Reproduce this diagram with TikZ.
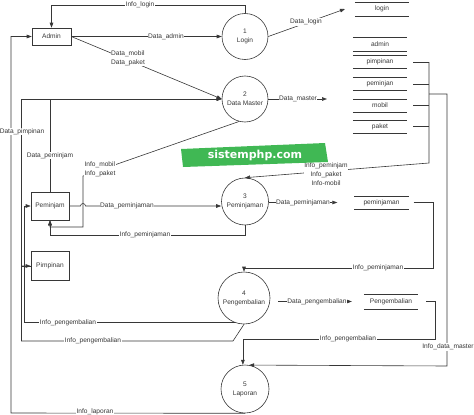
\documentclass[tikz,border=0pt]{standalone}
\usepackage{fontspec}
\setmainfont{Liberation Sans}
\newfontfamily\wmfont{DejaVu Sans}
\usetikzlibrary{arrows.meta,calc}
\definecolor{ln}{RGB}{55,55,55}
\definecolor{wmgreen}{RGB}{64,184,84}
\begin{document}
\begin{tikzpicture}[x=1pt,y=-1pt,
 every node/.style={font=\fontsize{6.6}{9}\selectfont, text=ln},
 flow/.style={draw=ln, line width=0.6pt},
 arr/.style={flow, -{Triangle[length=5pt,width=3.6pt]}},
 proc/.style={circle, draw=ln, line width=0.6pt, inner sep=0pt, align=center},
 ent/.style={rectangle, draw=ln, line width=0.6pt, minimum width=39pt, inner sep=0pt},
 store/.style={minimum width=54pt, minimum height=13pt, inner sep=0pt},
 lbl/.style={fill=white, inner sep=0.6pt, align=center}]
\useasboundingbox (0,0) rectangle (474,415);

% external entities
\node[ent, minimum height=17pt] (admin) at (51.5,36.5) {Admin};
\node[ent, minimum width=38pt, minimum height=28pt] (pem) at (50,206) {Peminjam};
\node[ent, minimum width=38pt, minimum height=29pt] (pimp) at (50,266) {Pimpinan};

% processes
\node[proc, minimum size=46pt] (c1) at (245,36.5) {1\\Login};
\node[proc, minimum size=46pt] (c2) at (245,99) {2\\Data Master};
\node[proc, minimum size=47pt] (c3) at (245,201.5) {3\\Peminjaman};
\node[proc, minimum size=52pt] (c4) at (244,298) {4\\Pengembalian};
\node[proc, minimum size=48pt] (c5) at (245,389) {5\\Laporan};

% data stores
\node[store] (slogin) at (382,9.2) {login};
\node[store] (sadmin) at (380,44.3) {admin};
\node[store] (spimp) at (380,62) {pimpinan};
\node[store] (speminjan) at (380,84) {peminjan};
\node[store] (smobil) at (380,105.5) {mobil};
\node[store] (spaket) at (380,126.5) {paket};
\node[store] (speminjaman) at (381.5,202.5) {peminjaman};
\node[store, minimum height=15pt] (spengembalian) at (391,301.5) {Pengembalian};
\foreach \s in {slogin,sadmin,spimp,speminjan,smobil,spaket,speminjaman,spengembalian}
  \draw[flow] (\s.north west) -- (\s.north east) (\s.south west) -- (\s.south east);

% helper coordinates
\coordinate (il) at (245,5);
\coordinate (dl) at (345,9);
\coordinate (dm) at (327,99);
\coordinate (bx) at (429,163);
\coordinate (bb) at (447,94);
\coordinate (bc) at (447,366);
\coordinate (ip) at (433,268);
\coordinate (pg) at (435,339);
\coordinate (im) at (83,176);
\coordinate (imb) at (83,227);
\coordinate (ipm) at (245,235);
\coordinate (dp) at (21.5,266);
\coordinate (ipa) at (233,341);
\coordinate (ipb) at (24.5,323);
\coordinate (lap) at (11,413);

% connectors
\draw[arr] (c1.north) -- (il) -| (admin.north);
\draw[arr] (admin.east) -- (c1.west);
\draw[arr] (admin.east) -- (c2.west);
\draw[arr] (c1.east) -- (dl);
\draw[arr] (c2.east) -- (dm);
\draw[arr] (pem.north) |- (c2.west);
\draw[arr] (pimp.west) -- (dp) |- (c2.west);
\draw[arr] (c2.255) -- (im) -- (imb) -| (pem.south);
\draw[arr] (pem.east) -- ($(im |- pem.east)+(-2.5,0)$) arc[start angle=180,end angle=0,radius=2.5pt] -- (pem.east -| c3.west);
\draw[arr] (c3.south) -- (ipm) -| (pem.south);
\draw[arr, shorten >=17pt] (c3.east |- speminjaman.west) -- (speminjaman.west);
\foreach \s in {spimp,speminjan,smobil,spaket}
  \draw[flow, shorten <=6pt] (\s.east) -- (\s.east -| bx);
\draw[arr] (spimp.east -| bx) -- (bx) -- (c3.north);
\draw[arr] (bb -| bx) -- (bb) -- (bc) -- (c5.80);
\draw[arr, shorten <=5pt] (speminjaman.east) -- (speminjaman.east -| ip) -- (ip) -- (ip -| c4.north) -- (c4.north);
\draw[arr, shorten <=8pt, shorten >=12pt] (c4.east |- spengembalian.west) -- (spengembalian.west);
\draw[arr, shorten <=8pt] (spengembalian.east) -- (spengembalian.east -| pg) -- (pg) -- (pg -| c5.95) -- (c5.95);
\draw[arr] (c4.south) -- (ipa) -- (ipa -| dp) -- (dp) -- (pimp.west);
\draw[arr] (c4.250) -- (c4.250 -| ipb) -- (ipb |- pem.west) -- (pem.west);
\draw[arr] (c5.south) -- (lap) |- (admin.west);

% labels
\node[lbl] (l1) at (140,5) {Info\_login};
\node[lbl] (l2) at (166,36.5) {Data\_admin};
\node[lbl, align=left] (l3) at (128,58) {Data\_mobil\\Data\_paket};
\node[lbl] (l4) at (306,22) {Data\_login};
\node[lbl] (l5) at (298,99) {Data\_master};
\node[lbl] (l6) at (22,131.5) {Data\_pimpinan};
\node[lbl] (l7) at (50,155.5) {Data\_peminjam};
\node[lbl, align=left] (l8) at (100,169) {Info\_mobil\\Info\_paket};
\node[lbl] (l9) at (127,206) {Data\_peminjaman};
\node[lbl] (l10) at (145,235) {Info\_peminjaman};
\node[lbl] (l11) at (326,174) {Info\_peminjam\\Info\_paket\\Info-mobil};
\node[lbl] (l12) at (303,202.5) {Data\_peminjaman};
\node[lbl] (l13) at (378,268) {Info\_peminjaman};
\node[lbl] (l14) at (317,302) {Data\_pengembalian};
\node[lbl] (l15) at (348,339) {Info\_pengembalian};
\node[lbl] (l16) at (448,347) {Info\_data\_master};
\node[lbl] (l17) at (68,323) {Info\_pengembalian};
\node[lbl] (l18) at (93,341) {Info\_pengembalian};
\node[lbl] (l19) at (95,412) {Info\_laporan};

% watermark
\fill[wmgreen] (181,149) -- (325,143) -- (328,162) -- (183,167) -- cycle;
\node[font=\wmfont\bfseries\fontsize{11}{13}\selectfont, text=white] (wm) at (255,155.5) {sistemphp.com};
\end{tikzpicture}
\end{document}
